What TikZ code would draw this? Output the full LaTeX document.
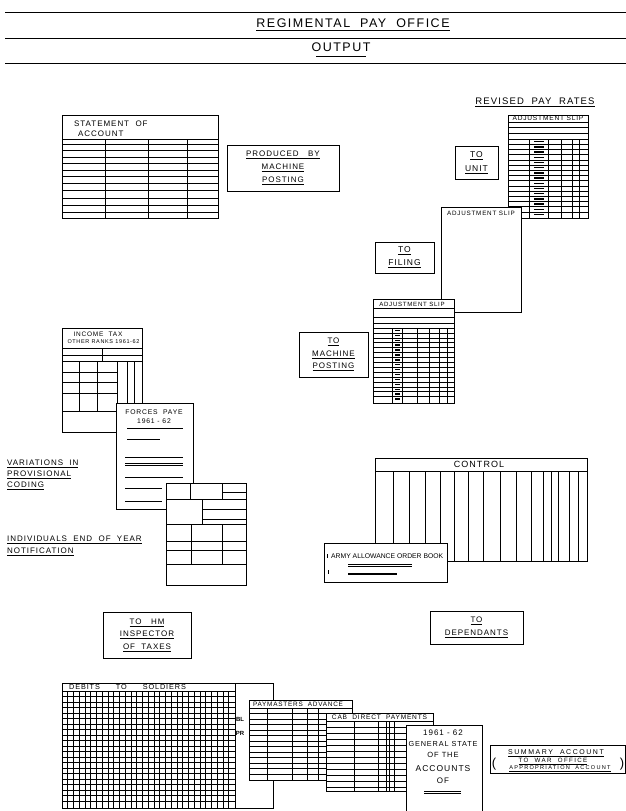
\documentclass[tikz,border=0pt]{standalone}
\usepackage{fontspec}
\setmainfont[LetterSpace=12]{Liberation Sans}
\newfontfamily\plainhand{Liberation Sans}
\newfontfamily\widehand[LetterSpace=22]{Liberation Sans}
\usetikzlibrary{positioning,calc}
\tikzset{
  sheet/.style={draw, line width=0.8pt, fill=white},
  ruled/.style={line width=0.6pt},
  bar/.style={line width=1.4pt, line cap=butt}
}
\tikzset{
  tag/.style={font=\fontsize{8}{12.5}\selectfont, align=center, inner sep=0pt},
  tinytag/.style={font=\fontsize{6}{7}\selectfont, align=center, inner sep=0pt},
  titletag/.style={font=\fontsize{12.5}{14}\selectfont, inner sep=0pt},
  tobox/.style={draw, line width=0.8pt, font=\fontsize{8}{12.5}\selectfont, align=center, inner sep=0pt}
}
% horizontal rules from x #1 to x #2 at every y of #3
\newcommand{\rowset}[3]{%
  \foreach \yy in {#3} {\draw[ruled] (#1,\yy) -- (#2,\yy);}
}
% vertical rules from y #1 to y #2 at every x of #3
\newcommand{\colset}[3]{%
  \foreach \xx in {#3} {\draw[ruled] (\xx,#1) -- (\xx,#2);}
}

\begin{document}
\begin{tikzpicture}[x=1pt, y=-1pt]
  \useasboundingbox (0,0) rectangle (626,811);

  % heading
  \draw[ruled] (5,12) -- (626,12);
  \node[titletag] (title) at (353,23) {REGIMENTAL\ \ PAY\ \ OFFICE};
  \draw[line width=1.1pt] (256,30.5) -- (450,30.5);
  \draw[ruled] (5,38) -- (626,38);
  \node[titletag] (output) at (341,47.5) {OUTPUT};
  \draw[line width=1.1pt] (316,56.5) -- (366,56.5);
  \draw[ruled] (5,63) -- (626,63);

  % statement of account
  \draw[sheet] (62,115) rectangle (218,218);
  \node[tag, anchor=west, align=left, font=\fontsize{8}{10}\selectfont] (statement) at (74,128.5)
    {STATEMENT\ \ OF\\\hspace{4pt}ACCOUNT};
  \draw[ruled] (62,139) -- (218,139);
  \rowset{62}{218}{144,150,157,163,170,176,183,190,198,205,212}
  \colset{139}{218}{105,148,187}
  \node[tobox, minimum width=112pt, minimum height=46pt, font=\fontsize{8}{13}\selectfont] (produced) at (283,168)
    {\underline{PRODUCED\ \ \ BY}\\\underline{MACHINE}\\\underline{POSTING}};

  % revised pay rates
  \node[tag, font=\fontsize{9.5}{12}\selectfont] (revised) at (535,102.5) {\underline{REVISED\ \ PAY\ \ RATES}};
  \draw[sheet] (508,115) rectangle (588,218);
  \node[tinytag, font=\fontsize{6.6}{7}\selectfont] (slipa) at (548,118.7) {ADJUSTMENT SLIP};
  \rowset{508}{588}{122,127,133}
  \rowset{508}{588}{139,144.2,...,215}
  \colset{139}{218}{529,548,561,572,579}
  \foreach \yy in {141.6,146.8,...,216} {\draw[bar] (534,\yy) -- (544,\yy);}
  \node[tobox, minimum width=43pt, minimum height=33pt, font=\fontsize{8.5}{14}\selectfont] (tounit) at (476.5,162.5)
    {\underline{TO}\\\underline{UNIT}};

  \draw[sheet] (441,207) rectangle (521,312);
  \node[tinytag, font=\fontsize{6.3}{7}\selectfont] (slipb) at (481,213) {ADJUSTMENT SLIP};
  \node[tobox, minimum width=59pt, minimum height=31pt, font=\fontsize{8.5}{13}\selectfont] (tofiling) at (404.5,257.5)
    {\underline{TO}\\\underline{FILING}};

  \draw[sheet] (373,299) rectangle (454,403);
  \node[tinytag, font=\fontsize{6.1}{7}\selectfont] (slipc) at (412,304) {ADJUSTMENT SLIP};
  \rowset{373}{454}{308,317,323}
  \rowset{373}{454}{328,332.9,...,400}
  \colset{328}{403}{392,402,417,429,439,447}
  \foreach \yy in {330.4,335.3,...,401} {\draw[bar] (395,\yy) -- (400,\yy);}
  \node[tobox, minimum width=69pt, minimum height=45pt] (tomachine) at (333.5,354.5)
    {\underline{TO}\\\underline{MACHINE}\\\underline{POSTING}};

  % income tax forms
  \draw[sheet] (62,328) rectangle (142,432);
  \node[tinytag, font=\fontsize{6.5}{7}\selectfont] (incometax) at (98,334) {INCOME\ \ TAX};
  \node[tinytag, font=\fontsize{5.5}{7}\selectfont] (otherranks) at (103.5,341.5) {OTHER RANKS 1961-62};
  \rowset{62}{142}{348,355,361}
  \draw[ruled] (102,348) -- (102,361);
  \rowset{62}{117}{372,382,393,411}
  \colset{361}{411}{79,97,117}
  \colset{361}{432}{127,134}

  \draw[sheet] (116,403) rectangle (193,509);
  \node[tinytag, font=\fontsize{6.8}{9}\selectfont] (paye) at (154,417)
    {FORCES\ \ PAYE\\1961 - 62};
  \draw[line width=1pt] (127,428.5) -- (183,428.5);
  \draw[ruled] (127,439) -- (160,439);
  \rowset{125}{183}{457,463.5,465.5,477}
  \rowset{125}{162}{488,501}

  \draw[sheet] (166,483) rectangle (246,585);
  \colset{483}{499}{190,222}
  \draw[ruled] (222,492) -- (246,492);
  \rowset{166}{246}{499,524,541,550,564}
  \draw[ruled] (202,499) -- (202,524);
  \rowset{202}{246}{509,519}
  \colset{524}{564}{191,222}

  \node[tag, anchor=west] (variations) at (7,464) {\underline{VARIATIONS\ \ IN}};
  \node[tag, anchor=west] (provisional) at (7,474.5) {\underline{PROVISIONAL}};
  \node[tag, anchor=west] (coding) at (7,486) {\underline{CODING}};
  \node[tag, anchor=west] (individuals) at (7,540) {\underline{INDIVIDUALS\ \ END\ \ OF\ \ YEAR}};
  \node[tag, anchor=west] (notification) at (7,552) {\underline{NOTIFICATION}};

  \node[tobox, minimum width=88pt, minimum height=46pt] (toinspector) at (147,635)
    {\underline{TO\ \ \ HM}\\\underline{INSPECTOR}\\\underline{OF\ \ TAXES}};

  % control and allowances
  \draw[sheet] (375,458) rectangle (587,561);
  \node[tag, font=\fontsize{9}{10}\selectfont] (control) at (479,464.5) {CONTROL};
  \draw[ruled] (375,471) -- (587,471);
  \colset{471}{561}{393,409,425,440,454,468,483,500,516,531,543,551,558,569,578}

  \draw[sheet] (324,543) rectangle (447,582);
  \node[tinytag, anchor=west, font=\plainhand\fontsize{6.8}{8}\selectfont] (armybook) at (331,556.5)
    {ARMY\ ALLOWANCE ORDER BOOK};
  \draw[ruled] (327.5,554) -- (327.5,558);
  \draw[ruled] (328,570) -- (328,574);
  \rowset{348}{412}{564,566.5}
  \rowset{348}{397}{573,574.3}

  \node[tobox, minimum width=93pt, minimum height=33pt, font=\fontsize{8}{13}\selectfont] (todependants) at (476.5,627.5)
    {\underline{TO}\\\underline{DEPENDANTS}};

  % debits and accounts
  \draw[sheet] (62,683) rectangle (273,808);
  \draw[ruled] (235,683) -- (235,808);
  \node[tinytag, anchor=west, font=\fontsize{7.3}{7}\selectfont] (debits) at (69,687.3)
    {DEBITS\hspace{16pt}TO\hspace{16pt}SOLDIERS};
  \rowset{62}{235}{691,696.5,...,806}
  \colset{691}{808}{67.75,73.5,...,231}
  \node[tinytag, font=\plainhand\bfseries\fontsize{6}{7}\selectfont] (bl) at (240,719) {BL};
  \node[tinytag, font=\plainhand\bfseries\fontsize{6}{7}\selectfont] (pr) at (240,733) {PR};

  \draw[sheet] (249,700) rectangle (352,780);
  \node[tinytag, font=\fontsize{6.4}{7}\selectfont] (paymasters) at (298,704.3) {PAYMASTERS\ \ ADVANCE};
  \rowset{249}{352}{708,713.5,...,776}
  \colset{708}{780}{267,292,307,318}

  \draw[sheet] (326,713) rectangle (433,791);
  \node[tinytag, font=\fontsize{6.6}{7}\selectfont] (cab) at (379.5,717.3) {CAB\ \ DIRECT\ \ PAYMENTS};
  \rowset{326}{433}{721,727,...,787}
  \colset{721}{791}{354,378,386,389,394}

  \draw[sheet] (406,725) rectangle (482,830);
  \foreach \i/\y/\s/\t in {year/733/8/1961 - 62, general/743.5/7.3/GENERAL STATE, ofthe/755/7.5/OF THE,
                           accounts/768.5/8.5/ACCOUNTS, of/781/8/OF} {
    \node[tinytag, font=\fontsize{\s}{8}\selectfont] (gs\i) at (443,\y) {\t};
  }
  \rowset{424}{461}{791.5,793}

  % summary
  \draw[sheet] (490,745) rectangle (625.6,773);
  \node[tinytag, font=\widehand\fontsize{7}{7}\selectfont] (summary) at (556,753.5) {\underline{SUMMARY\ \ ACCOUNT}};
  \node[tinytag, font=\widehand\fontsize{6.2}{7}\selectfont] (waroffice) at (553,761.5) {\underline{TO\ \ WAR\ \ OFFICE}};
  \node[tinytag, font=\widehand\fontsize{5.6}{6}\selectfont] (appropriation) at (560,768.8) {\underline{APPROPRIATION\ \ ACCOUNT}};
  \node[inner sep=0pt, font=\fontsize{13}{13}\selectfont] (lparen) at (494,764) {(};
  \node[inner sep=0pt, font=\fontsize{13}{13}\selectfont] (rparen) at (622,764) {)};
\end{tikzpicture}
\end{document}
